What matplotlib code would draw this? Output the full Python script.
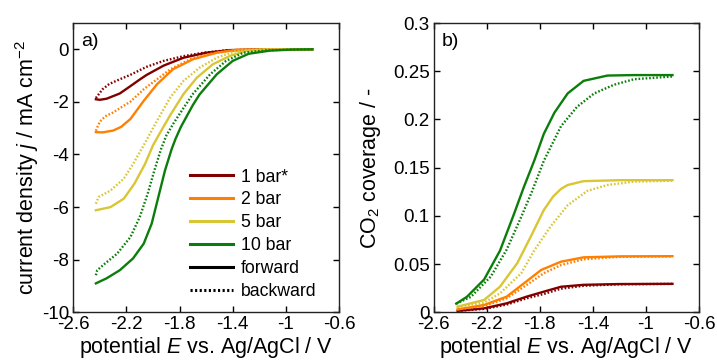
import matplotlib
matplotlib.use("Agg")
from matplotlib import pyplot as plt

plt.rcParams['font.family'] = ['Liberation Sans', 'DejaVu Sans']
plt.rcParams['mathtext.fontset'] = 'custom'
plt.rcParams['mathtext.rm'] = 'Liberation Sans'
plt.rcParams['mathtext.it'] = 'Liberation Sans:italic'

labels = ["1 bar*", "2 bar", "5 bar", "10 bar"]
colors = ["#800000", "#ff8000", "#d9c634", "#0b7d0b"]

# a) current density, forward (solid) and backward (dotted) scans
E_f1 = [-2.43, -2.40, -2.35, -2.25, -2.17, -2.10, -2.05, -1.92, -1.77, -1.60, -1.42, -1.20, -1.0, -0.8]
j_f1 = [-1.90, -1.92, -1.88, -1.68, -1.40, -1.15, -0.98, -0.62, -0.32, -0.13, -0.03, -0.01, 0, 0]
E_b1 = [-2.43, -2.41, -2.38, -2.33, -2.25, -2.17, -2.05, -1.92, -1.77, -1.62, -1.45, -1.2, -1.0, -0.8]
j_b1 = [-1.85, -1.72, -1.52, -1.32, -1.14, -0.97, -0.67, -0.44, -0.26, -0.13, -0.04, -0.01, 0, 0]

E_f2 = [-2.43, -2.38, -2.30, -2.24, -2.17, -2.07, -1.97, -1.85, -1.70, -1.52, -1.37, -1.2, -1.0, -0.8]
j_f2 = [-3.15, -3.16, -3.09, -2.95, -2.65, -1.96, -1.33, -0.76, -0.38, -0.13, -0.02, -0.01, 0, 0]
E_b2 = [-2.43, -2.42, -2.40, -2.36, -2.30, -2.17, -2.07, -1.97, -1.87, -1.72, -1.57, -1.40, -1.2, -0.8]
j_b2 = [-3.10, -2.97, -2.75, -2.55, -2.40, -1.99, -1.52, -1.14, -0.76, -0.38, -0.17, -0.04, -0.01, 0]

E_f5 = [-2.43, -2.32, -2.22, -2.14, -2.06, -2.00, -1.95, -1.87, -1.77, -1.67, -1.55, -1.42, -1.30, -1.15, -0.8]
j_f5 = [-6.12, -6.00, -5.68, -5.11, -4.36, -3.65, -3.20, -2.50, -1.70, -1.08, -0.57, -0.25, -0.06, -0.01, 0]
E_b5 = [-2.43, -2.41, -2.32, -2.22, -2.15, -2.07, -2.01, -1.97, -1.87, -1.77, -1.65, -1.52, -1.37, -1.2, -0.8]
j_b5 = [-5.87, -5.62, -5.37, -4.92, -4.36, -3.65, -3.09, -2.72, -1.83, -1.20, -0.70, -0.32, -0.06, -0.01, 0]

E_f10 = [-2.43, -2.35, -2.25, -2.15, -2.07, -2.01, -1.96, -1.91, -1.86, -1.83, -1.79, -1.75, -1.70, -1.65, -1.52, -1.40, -1.28, -1.12, -0.95, -0.8]
j_f10 = [-8.90, -8.71, -8.40, -7.95, -7.39, -6.63, -5.62, -4.61, -3.80, -3.40, -2.95, -2.58, -2.12, -1.72, -0.95, -0.44, -0.17, -0.05, -0.01, 0]
E_b10 = [-2.43, -2.42, -2.36, -2.27, -2.17, -2.10, -2.04, -1.99, -1.94, -1.90, -1.85, -1.80, -1.70, -1.57, -1.45, -1.32, -1.15, -0.95, -0.8]
j_b10 = [-8.59, -8.40, -8.14, -7.77, -7.14, -6.38, -5.49, -4.61, -3.80, -3.28, -2.85, -2.46, -1.70, -0.95, -0.44, -0.13, -0.04, -0.01, 0]

# b) CO2 coverage
E_cf1 = [-2.42, -2.22, -2.05, -1.90, -1.77, -1.64, -1.47, -1.2, -0.8]
c_f1 = [0.0015, 0.0041, 0.0093, 0.0162, 0.0214, 0.0265, 0.0285, 0.0293, 0.0295]
E_cb1 = [-2.42, -2.22, -2.05, -1.90, -1.77, -1.64, -1.47, -1.2, -0.8]
c_b1 = [0.0015, 0.0035, 0.0080, 0.0145, 0.0190, 0.0245, 0.0275, 0.0290, 0.0295]

E_cf2 = [-2.42, -2.22, -2.05, -1.92, -1.79, -1.64, -1.47, -1.2, -0.8]
c_f2 = [0.003, 0.0076, 0.0162, 0.030, 0.0439, 0.0525, 0.0570, 0.0580, 0.0582]
E_cb2 = [-2.42, -2.22, -2.05, -1.90, -1.77, -1.64, -1.47, -1.2, -0.8]
c_b2 = [0.003, 0.0065, 0.0145, 0.0283, 0.0405, 0.049, 0.055, 0.0575, 0.058]

E_cf5 = [-2.42, -2.22, -2.10, -1.97, -1.87, -1.77, -1.70, -1.64, -1.59, -1.47, -1.2, -0.8]
c_f5 = [0.0058, 0.0128, 0.0266, 0.051, 0.078, 0.106, 0.120, 0.128, 0.132, 0.136, 0.137, 0.137]
E_cb5 = [-2.42, -2.22, -2.10, -1.94, -1.84, -1.72, -1.59, -1.44, -1.29, -1.09, -0.8]
c_b5 = [0.0055, 0.010, 0.0197, 0.0405, 0.0646, 0.0888, 0.111, 0.126, 0.132, 0.1355, 0.1365]

E_cf10 = [-2.43, -2.35, -2.22, -2.10, -2.00, -1.92, -1.84, -1.77, -1.69, -1.59, -1.47, -1.29, -1.09, -0.8]
c_f10 = [0.009, 0.016, 0.034, 0.064, 0.100, 0.130, 0.158, 0.185, 0.207, 0.227, 0.240, 0.2455, 0.246, 0.246]
E_cb10 = [-2.43, -2.32, -2.17, -2.05, -1.94, -1.86, -1.77, -1.64, -1.52, -1.39, -1.24, -1.09, -0.8]
c_b10 = [0.009, 0.016, 0.037, 0.065, 0.099, 0.125, 0.157, 0.193, 0.213, 0.227, 0.236, 0.2417, 0.2445]

fwd_a = [(E_f1, j_f1), (E_f2, j_f2), (E_f5, j_f5), (E_f10, j_f10)]
bwd_a = [(E_b1, j_b1), (E_b2, j_b2), (E_b5, j_b5), (E_b10, j_b10)]
fwd_b = [(E_cf1, c_f1), (E_cf2, c_f2), (E_cf5, c_f5), (E_cf10, c_f10)]
bwd_b = [(E_cb1, c_b1), (E_cb2, c_b2), (E_cb5, c_b5), (E_cb10, c_b10)]

lw = 1.7
dots = (0, (0.7, 0.8))

fig = plt.figure(figsize=(7.17, 3.6), dpi=100)
ax1 = fig.add_axes([73.3/717, 1-312.3/360, 265.7/717, 289.3/360])
ax2 = fig.add_axes([433.7/717, 1-312.3/360, 265.3/717, 289.3/360])

for i in range(4):
	ax1.plot(*bwd_a[i], color=colors[i], lw=lw, ls=dots)
	ax1.plot(*fwd_a[i], color=colors[i], lw=lw)
	ax2.plot(*bwd_b[i], color=colors[i], lw=lw, ls=dots)
	ax2.plot(*fwd_b[i], color=colors[i], lw=lw)

# legend entries
for i in range(4):
	ax1.plot([], [], color=colors[i], lw=2.2, label=labels[i])
ax1.plot([], [], color="black", lw=2.2, label="forward")
ax1.plot([], [], color="black", lw=2.2, ls=dots, label="backward")
ax1.legend(loc="upper left", bbox_to_anchor=(0.407, 0.527), frameon=False,
           fontsize=12.7, handlelength=2.4, handletextpad=0.45, labelspacing=0.33, borderpad=0)

ticks_x = [-2.6, -2.2, -1.8, -1.4, -1, -0.6]
ax1.set_xlim(-2.6, -0.6)
ax1.set_ylim(-10, 1)
ax1.set_xticks(ticks_x)
ax1.set_xticklabels(["-2.6", "-2.2", "-1.8", "-1.4", "-1", "-0.6"])
ax1.set_yticks([0, -2, -4, -6, -8, -10])
ax1.set_yticklabels(["0", "-2", "-4", "-6", "-8", "-10"])
ax1.set_ylabel(r"current density $\it{j}$ / mA cm$^{-2}$", fontsize=15.5)
ax1.yaxis.set_label_coords(-0.12, 0.5)
ax1.text(0.03, 0.965, "a)", transform=ax1.transAxes, fontsize=14, va="top")

ax2.set_xlim(-2.6, -0.6)
ax2.set_ylim(0, 0.3)
ax2.set_xticks(ticks_x)
ax2.set_xticklabels(["-2.6", "-2.2", "-1.8", "-1.4", "-1", "-0.6"])
ax2.set_yticks([0, 0.05, 0.1, 0.15, 0.2, 0.25, 0.3])
ax2.set_yticklabels(["0", "0.05", "0.1", "0.15", "0.2", "0.25", "0.3"])
ax2.set_ylabel(r"CO$_2$ coverage / -", fontsize=15.5)
ax2.yaxis.set_label_coords(-0.19, 0.5)
ax2.text(0.03, 0.965, "b)", transform=ax2.transAxes, fontsize=14, va="top")

for ax in (ax1, ax2):
	ax.set_xlabel(r"potential $\it{E}$ vs. Ag/AgCl / V", fontsize=15.5)
	ax.xaxis.set_label_coords(0.5, -0.08)
	ax.tick_params(direction="in", top=True, right=True, length=4, width=1, labelsize=13.5, pad=3)
	for s in ax.spines.values():
		s.set_linewidth(1)
		s.set_color("#222222")

plt.savefig("out.png", dpi=100)
